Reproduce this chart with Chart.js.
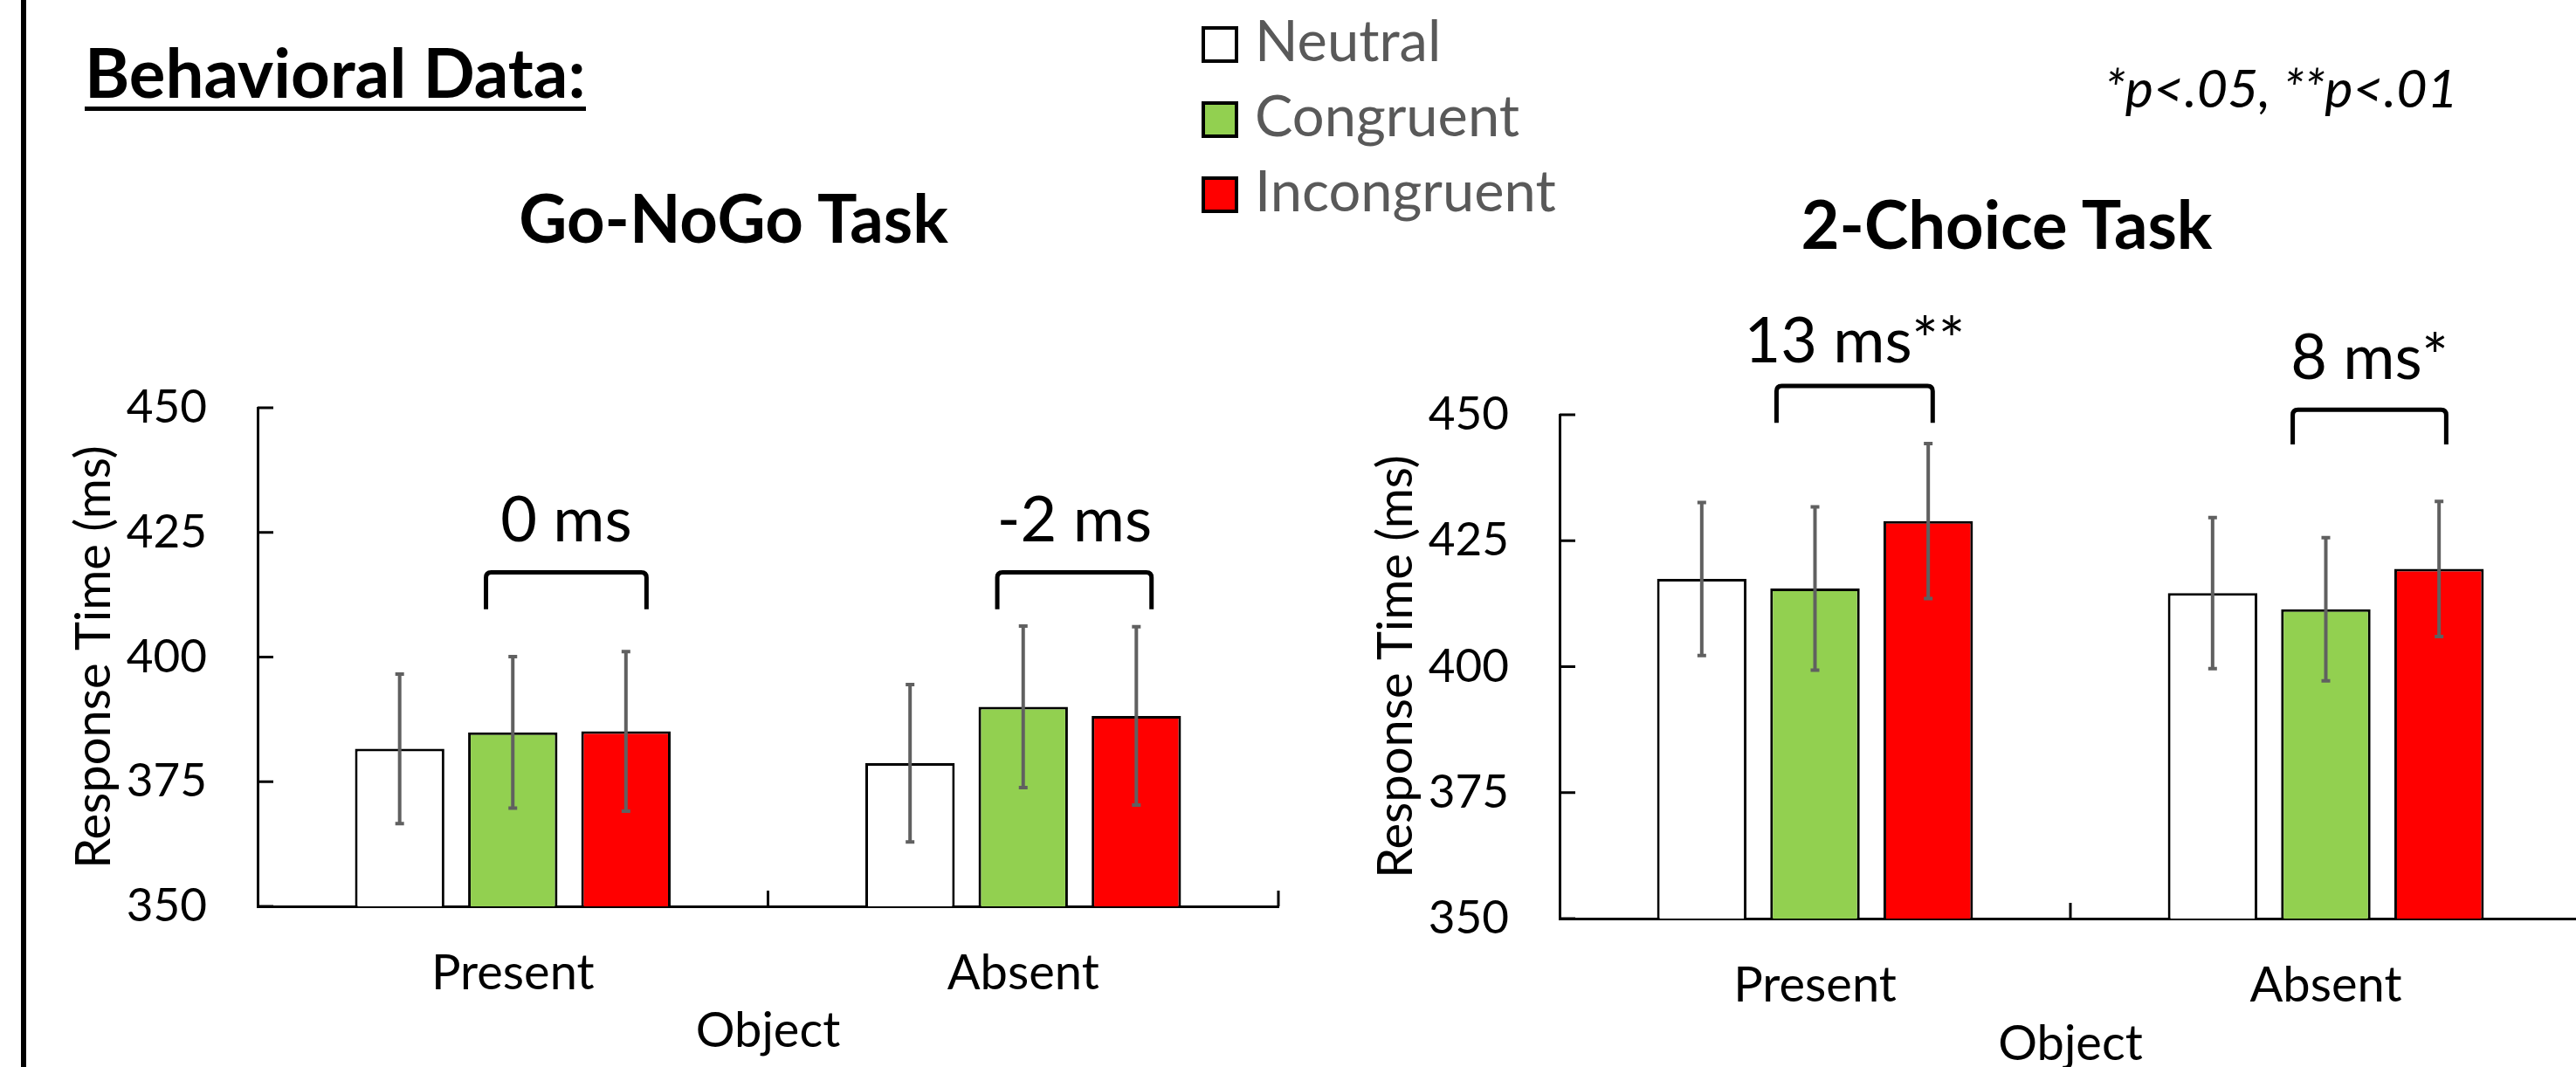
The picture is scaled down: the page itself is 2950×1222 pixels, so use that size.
<!DOCTYPE html>
<html>
<head>
<meta charset="utf-8">
<title>Behavioral Data</title>
<script src="https://cdn.jsdelivr.net/npm/chart.js@4.4.1/dist/chart.umd.min.js"></script>
<style>
  html, body { margin: 0; padding: 0; background: #fff; overflow: hidden; }
  body { position: relative; width: 2950px; height: 1222px; font-family: Lato, 'Open Sans', sans-serif; color: #000; }
  .frame { position: absolute; left: 24px; top: 0; width: 6px; height: 1222px; background: #000; }
  .heading { position: absolute; left: 97px; top: 43px; font-size: 78px; font-weight: 700; line-height: 1; }
  .heading span { display: inline-block; padding-bottom: 1px; border-bottom: 5px solid #000; }
  .title { position: absolute; width: 1000px; text-align: center; font-size: 76px; font-weight: 700; line-height: 1; }
  .pval { position: absolute; left: 2410px; top: 69px; font-size: 61px; font-style: italic; line-height: 1; }
  .lg-box { position: absolute; left: 1376px; width: 42px; height: 42px; border: 4px solid #000; box-sizing: border-box; }
  .lg-text { position: absolute; left: 1437px; font-size: 65px; line-height: 1; color: #595959; }
  canvas { position: absolute; }
</style>
</head>
<body>
<div class="frame"></div>
<div class="heading"><span>Behavioral Data:</span></div>
<div class="title" style="left:340px; top:211px;">Go-NoGo Task</div>
<div class="title" style="left:1798px; top:218px;">2-Choice Task</div>
<div class="pval">*p&lt;.05, **p&lt;.01</div>
<div id="legend"></div>
<canvas id="goChart" width="1440" height="940" style="left:60px; top:300px;"></canvas>
<canvas id="tcChart" width="1441" height="940" style="left:1551px; top:300px;"></canvas>

<script>
Chart.defaults.font.family = 'Lato, "Open Sans", sans-serif';

// categories and series
const categories = ['Present', 'Absent'];
const seriesNames = ['Neutral', 'Congruent', 'Incongruent'];
const seriesColors = ['#FFFFFF', '#92D050', '#FF0000'];

// Go-NoGo task, mean RT and error bar half-length (ms)
const goNeutral = [381.6, 378.7];
const goCongruent = [384.9, 390.0];
const goIncongruent = [385.1, 388.2];
const goNeutralErr = [15.0, 15.8];
const goCongruentErr = [15.2, 16.2];
const goIncongruentErr = [16.0, 17.9];

// 2-Choice task
const tcNeutral = [417.4, 414.6];
const tcCongruent = [415.5, 411.4];
const tcIncongruent = [428.9, 419.4];
const tcNeutralErr = [15.2, 15.0];
const tcCongruentErr = [16.2, 14.2];
const tcIncongruentErr = [15.4, 13.4];

// y axis
const yMin = 350, yMax = 450, yStep = 25;

// difference brackets (congruent vs incongruent), heights in ms
const goBrackets = [
  { cat: 0, text: '0 ms', top: 417.0, foot: 409.6, label: 427.3 },
  { cat: 1, text: '-2 ms', top: 417.0, foot: 409.6, label: 427.3 }
];
const tcBrackets = [
  { cat: 0, text: '13 ms**', top: 455.7, foot: 448.4, label: 464.5 },
  { cat: 1, text: '8 ms*', top: 451.0, foot: 444.1, label: 461.2 }
];
// where the bracket legs sit, as a fraction of bar width from the bar centres
const goSpans = [[-0.30, 0.23], [-0.29, 0.17]];
const tcSpans = [[-0.43, 0.05], [-0.37, 0.08]];

// legend (html)
const legendEl = document.getElementById('legend');
seriesNames.forEach((name, i) => {
  const top = 30 + i * 86;
  const box = document.createElement('div');
  box.className = 'lg-box';
  box.style.top = top + 'px';
  box.style.background = seriesColors[i];
  const txt = document.createElement('div');
  txt.className = 'lg-text';
  txt.style.top = (top - 17) + 'px';
  txt.textContent = name;
  legendEl.appendChild(box);
  legendEl.appendChild(txt);
});

// small inside tick marks on both axes
const tickMarks = {
  id: 'tickMarks',
  afterDraw(chart) {
    const { ctx, chartArea: a, scales: { x, y } } = chart;
    ctx.save();
    ctx.strokeStyle = '#000';
    ctx.lineWidth = 3;
    ctx.beginPath();
    y.ticks.forEach(t => {
      const py = y.getPixelForValue(t.value);
      ctx.moveTo(a.left, py);
      ctx.lineTo(a.left + 18, py);
    });
    const n = x.ticks.length;
    const w = (a.right - a.left) / n;
    for (let k = 1; k <= n; k++) {
      const px = a.left + k * w;
      ctx.moveTo(px, a.bottom);
      ctx.lineTo(px, a.bottom - 18);
    }
    ctx.stroke();
    ctx.restore();
  }
};

const errorBars = {
  id: 'errorBars',
  afterDatasetsDraw(chart) {
    const { ctx, scales: { y } } = chart;
    ctx.save();
    ctx.strokeStyle = '#606060';
    ctx.lineWidth = 4;
    chart.data.datasets.forEach((ds, i) => {
      chart.getDatasetMeta(i).data.forEach((bar, j) => {
        const v = ds.data[j], e = ds.errors[j];
        const top = y.getPixelForValue(v + e);
        const bot = y.getPixelForValue(v - e);
        ctx.beginPath();
        ctx.moveTo(bar.x, top); ctx.lineTo(bar.x, bot);
        ctx.moveTo(bar.x - 5, top); ctx.lineTo(bar.x + 5, top);
        ctx.moveTo(bar.x - 5, bot); ctx.lineTo(bar.x + 5, bot);
        ctx.stroke();
      });
    });
    ctx.restore();
  }
};

const brackets = {
  id: 'brackets',
  afterDraw(chart, args, opts) {
    const { ctx, scales: { y } } = chart;
    const green = chart.getDatasetMeta(1).data;
    const red = chart.getDatasetMeta(2).data;
    ctx.save();
    ctx.strokeStyle = '#000';
    ctx.lineWidth = 5;
    ctx.fillStyle = '#000';
    ctx.font = '72px Lato, "Open Sans", sans-serif';
    ctx.textAlign = 'center';
    ctx.textBaseline = 'middle';
    opts.items.forEach((b, i) => {
      const g = green[b.cat], r = red[b.cat];
      const x0 = g.x + opts.spans[i][0] * g.width;
      const x1 = r.x + opts.spans[i][1] * r.width;
      const yt = y.getPixelForValue(b.top);
      const yf = y.getPixelForValue(b.foot);
      const rr = 6;
      ctx.beginPath();
      ctx.moveTo(x0, yf);
      ctx.lineTo(x0, yt + rr);
      ctx.quadraticCurveTo(x0, yt, x0 + rr, yt);
      ctx.lineTo(x1 - rr, yt);
      ctx.quadraticCurveTo(x1, yt, x1, yt + rr);
      ctx.lineTo(x1, yf);
      ctx.stroke();
      ctx.fillText(b.text, (x0 + x1) / 2, y.getPixelForValue(b.label));
    });
    ctx.restore();
  }
};

function buildChart(id, values, errors, bracketItems, spans, lay) {
  const ctx = document.getElementById(id).getContext('2d');
  return new Chart(ctx, {
    type: 'bar',
    data: {
      labels: categories,
      datasets: seriesNames.map((name, i) => ({
        label: name,
        data: values[i],
        errors: errors[i],
        backgroundColor: seriesColors[i],
        borderColor: '#000',
        borderWidth: 3,
        borderSkipped: 'bottom',
        categoryPercentage: 0.665,
        barPercentage: 0.79
      }))
    },
    options: {
      responsive: false,
      animation: false,
      events: [],
      layout: { padding: { top: lay.padTop, right: 36, left: 0, bottom: 0 } },
      plugins: {
        legend: { display: false },
        tooltip: { enabled: false },
        brackets: { items: bracketItems, spans: spans }
      },
      scales: {
        x: {
          grid: { display: false, drawTicks: false },
          border: { display: true, color: '#000', width: 3 },
          ticks: { color: '#000', font: { size: 56 }, padding: 43 },
          title: { display: true, text: 'Object', color: '#000', font: { size: 56 }, padding: { top: 0, bottom: lay.objPad } },
          afterFit: s => { s.height = lay.xHeight; }
        },
        y: {
          min: yMin,
          max: yMax,
          grid: { display: false, drawTicks: false },
          border: { display: true, color: '#000', width: 3 },
          ticks: { stepSize: yStep, color: '#000', font: { size: 53 }, padding: 58 },
          title: { display: true, text: 'Response Time (ms)', color: '#000', font: { size: 56 }, padding: { top: 14, bottom: 0 } },
          afterFit: s => { s.width = 235; }
        }
      }
    },
    plugins: [tickMarks, errorBars, brackets]
  });
}

buildChart('goChart',
  [goNeutral, goCongruent, goIncongruent],
  [goNeutralErr, goCongruentErr, goIncongruentErr],
  goBrackets, goSpans,
  { padTop: 167, xHeight: 202, objPad: 25 });

buildChart('tcChart',
  [tcNeutral, tcCongruent, tcIncongruent],
  [tcNeutralErr, tcCongruentErr, tcIncongruentErr],
  tcBrackets, tcSpans,
  { padTop: 175, xHeight: 188, objPad: 10 });
</script>
</body>
</html>
